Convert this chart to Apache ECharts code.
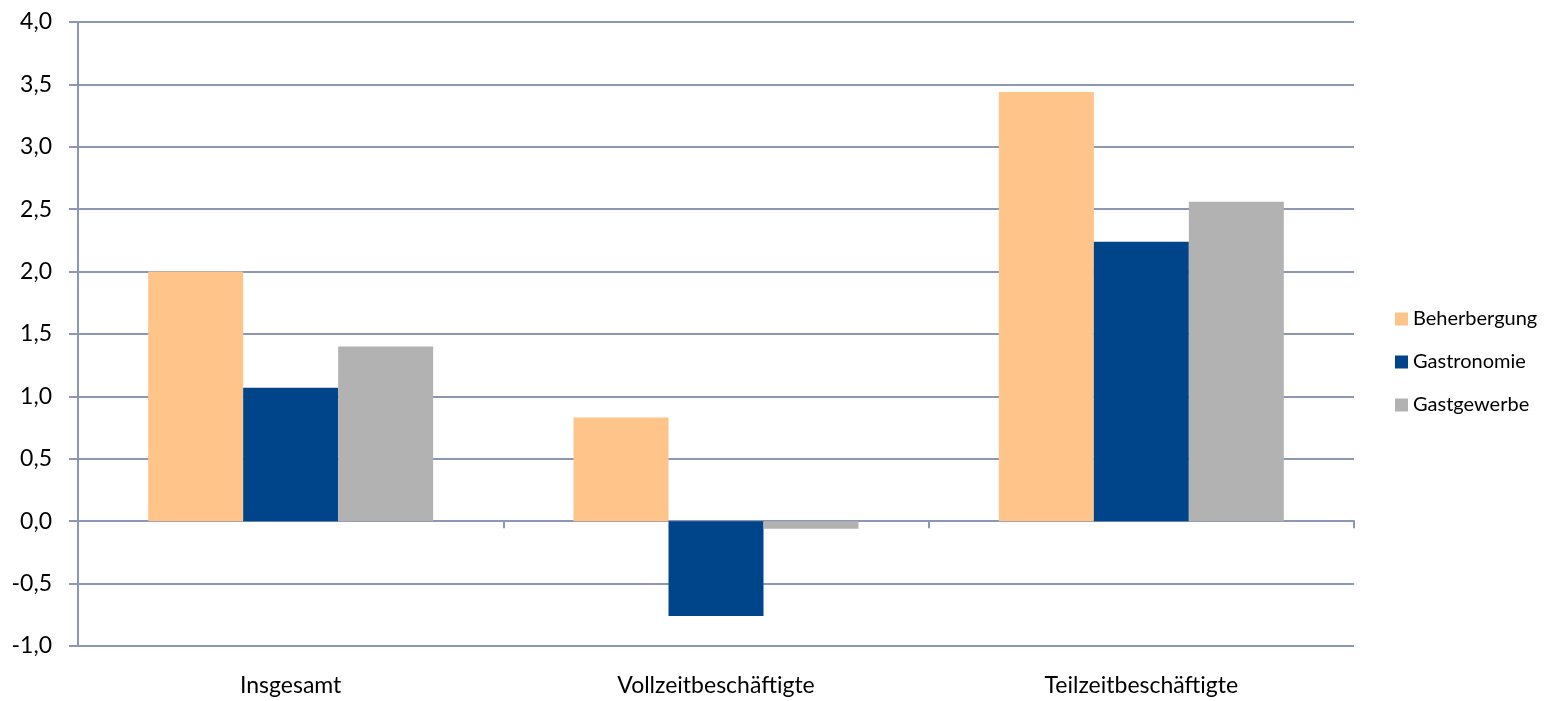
<!DOCTYPE html>
<html>
<head>
<meta charset="utf-8">
<script src="https://cdn.jsdelivr.net/npm/echarts@6/dist/echarts.min.js"></script>
<style>
  html, body { margin: 0; padding: 0; background: #fff; }
  #chart { width: 1546px; height: 701px; }
</style>
</head>
<body>
<div id="chart"></div>
<script>
const categories = ['Insgesamt', 'Vollzeitbeschäftigte', 'Teilzeitbeschäftigte'];
const beherbergung = [2.0, 0.83, 3.44];
const gastronomie = [1.07, -0.76, 2.24];
const gastgewerbe = [1.40, -0.06, 2.56];

const gridColor = '#8b97b5';
const font = 'Lato, sans-serif';

const myChart = echarts.init(document.getElementById('chart'));

const makeSeries = (name, data, color) => ({
  name: name,
  type: 'bar',
  data: data,
  xAxisIndex: 0,
  barGap: '0%',
  barCategoryGap: '33%',
  itemStyle: { color: color },
});

const option = {
  animation: false,
  grid: {
    left: 78,
    right: 192,
    top: 22,
    bottom: 55,
  },
  legend: {
    orient: 'vertical',
    left: 1395,
    top: 309,
    padding: 0,
    icon: 'rect',
    itemWidth: 13,
    itemHeight: 13,
    itemGap: 23,
    textStyle: { fontFamily: font, fontSize: 20, color: '#000' },
  },
  xAxis: [
    {
      type: 'category',
      data: categories,
      position: 'bottom',
      axisLine: { show: false, onZero: false },
      axisTick: { show: false },
      axisLabel: { margin: 28, fontFamily: font, fontSize: 23, color: '#000' },
    },
    {
      // zero line with the category ticks
      type: 'category',
      data: categories,
      position: 'top',
      axisLine: { show: true, onZero: true, lineStyle: { color: gridColor, width: 2 } },
      axisTick: { show: true, inside: true, length: 7, lineStyle: { color: gridColor, width: 2 } },
      axisLabel: { show: false },
    },
  ],
  yAxis: {
    type: 'value',
    min: -1,
    max: 4,
    interval: 0.5,
    axisLine: { show: true, lineStyle: { color: gridColor, width: 2 } },
    axisTick: { show: true, length: 9, lineStyle: { color: gridColor, width: 2 } },
    splitLine: { show: true, lineStyle: { color: gridColor, width: 2 } },
    axisLabel: {
      margin: 26,
      fontFamily: font,
      fontSize: 23,
      color: '#000',
      formatter: (v) => v.toFixed(1).replace('.', ','),
    },
  },
  series: [
    makeSeries('Beherbergung', beherbergung, '#fec48a'),
    makeSeries('Gastronomie', gastronomie, '#004489'),
    makeSeries('Gastgewerbe', gastgewerbe, '#b2b2b2'),
  ],
};

myChart.setOption(option);

window.addEventListener('resize', () => {
  myChart.resize();
});
</script>
</body>
</html>
